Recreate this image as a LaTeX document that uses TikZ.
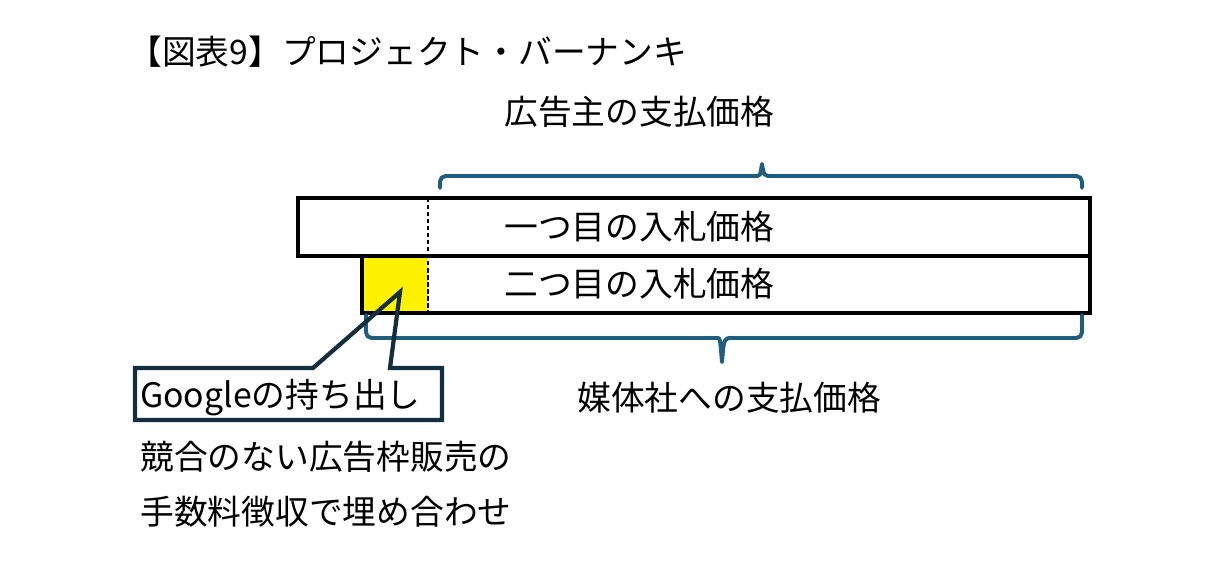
\documentclass[tikz,border=0pt]{standalone}
\usepackage{fontspec}
\setmainfont{Noto Sans CJK JP}
\usetikzlibrary{positioning}
\definecolor{bracecol}{HTML}{1F5E7E}
\definecolor{calloutcol}{HTML}{132F3F}
\tikzset{label/.style={inner sep=0pt,anchor=west,font=\fontsize{24}{28}\selectfont}}
\tikzset{bar/.style={draw=black,line width=2.4pt}}
\tikzset{brace/.style={draw=bracecol,line width=2.8pt,line cap=round,line join=round}}
\tikzset{callout/.style={draw=calloutcol,line width=3pt,line join=miter}}

\begin{document}
\begin{tikzpicture}[x=0.025cm,y=-0.025cm]
        \useasboundingbox (0,0) rectangle (1222,584);

        \node[label] (ttl) at (128,52) {【図表9】プロジェクト・バーナンキ};
        \node[label] (adv) at (504,112) {広告主の支払価格};

        % bars
        \fill[yellow] (362,256) rectangle (428,313);
        \draw[bar] (298,198) rectangle (1090,256);
        \draw[bar] (362,256) rectangle (1090,313);
        \draw[line width=2pt,dash pattern=on 3pt off 2pt] (428,198) -- (428,313);
        \node[label] (fst) at (504,227) {一つ目の入札価格};
        \node[label] (snd) at (504,284) {二つ目の入札価格};

        % braces
        \coordinate (ttip) at (762,164);
        \coordinate (btip) at (722,362);
        \draw[brace] (440,188) [rounded corners=4pt] |- (752,176)
            [sharp corners] .. controls (760,176) .. (ttip)
            .. controls (764,176) .. (772,176) [rounded corners=4pt] -| (1082,188);
        \draw[brace] (366,315) [rounded corners=4pt] |- (712,338)
            [sharp corners] .. controls (720,338) .. (btip)
            .. controls (724,338) .. (732,338) [rounded corners=4pt] -| (1082,315);
        \node[label] (pub) at (577,398) {媒体社への支払価格};

        % callout
        \coordinate (gtip) at (400,292);
        \node[label] (goo) at (140,398) {Googleの持ち出し};
        \draw[callout] (135,368) -- (313,368) -- (gtip) -- (390,368)
            -- (442,368) -- (442,420) -- (135,420) -- cycle;
        \node[label] (nt1) at (140,457) {競合のない広告枠販売の};
        \node[label] (nt2) at (140,512) {手数料徴収で埋め合わせ};
\end{tikzpicture}
\end{document}
